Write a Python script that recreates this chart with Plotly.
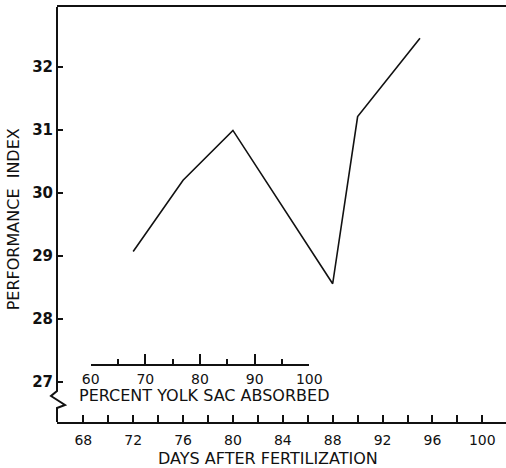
import plotly.graph_objects as go

# ---- data ----
days = [72, 76, 80, 88, 90, 95]
performance = [29.07, 30.20, 30.99, 28.56, 31.21, 32.45]

day_ticks = list(range(68, 101, 2))
day_labels = [str(d) if (d - 68) % 4 == 0 else "" for d in day_ticks]

y_ticks = [27, 28, 29, 30, 31, 32]
y_labels = ["27", "28", "29", "30", "31", "32"]

pct_major = [60, 70, 80, 90, 100]
pct_labels = ["60", "70", "80", "90", "100"]
pct_minor = [65, 75, 85, 95]

# ---- layout geometry ----
W, H = 506, 468
ML, MR, MT, MB = 57, 0, 7, 46
PW, PH = W - ML - MR, H - MT - MB
X_RANGE = [65.89, 101.9]
Y_RANGE = [26.369, 32.946]

def px_to_paper_x(px):
    return (px - ML) / PW

def py_to_paper_y(py):
    return (H - MB - py) / PH

FONT = "DejaVu Sans"
BLACK = "#111111"

fig = go.Figure()
fig.add_trace(go.Scatter(x=days, y=performance, mode="lines",
                         line=dict(color=BLACK, width=1.6),
                         showlegend=False, hoverinfo="skip"))
# carrier for the secondary (percent) axis
fig.add_trace(go.Scatter(x=pct_major, y=[None] * len(pct_major), xaxis="x2", yaxis="y",
                         mode="lines", showlegend=False, hoverinfo="skip"))

# left axis with break (zigzag)
zig = [(57, 7), (57, 391), (51, 396), (65, 405), (57, 408), (57, H - MB)]
path = "M " + " L ".join(f"{px_to_paper_x(a):.5f},{py_to_paper_y(b):.5f}" for a, b in zig)
shapes = [dict(type="path", path=path, xref="paper", yref="paper",
               line=dict(color=BLACK, width=2), layer="above")]

fig.update_layout(
    width=W, height=H,
    margin=dict(l=ML, r=MR, t=MT, b=MB, autoexpand=False),
    paper_bgcolor="white", plot_bgcolor="rgba(0,0,0,0)",
    font=dict(family=FONT, color=BLACK, size=14),
    showlegend=False,
    shapes=shapes,
    xaxis=dict(range=X_RANGE, tickmode="array", tickvals=day_ticks, ticktext=day_labels,
               ticks="inside", ticklen=7, tickwidth=1.5, tickcolor=BLACK,
               showline=True, linecolor=BLACK, linewidth=2, mirror=True,
               showgrid=False, zeroline=False, ticklabelstandoff=4, automargin=False,
               tickfont=dict(size=14)),
    yaxis=dict(range=Y_RANGE, tickmode="array", tickvals=y_ticks, ticktext=y_labels,
               ticks="inside", ticklen=6, tickwidth=1.5, tickcolor=BLACK,
               showline=False, showgrid=False, zeroline=False, automargin=False,
               ticklabelstandoff=3, tickfont=dict(size=15, weight="bold")),
    xaxis2=dict(domain=[px_to_paper_x(90.7), px_to_paper_x(309.3)], range=[60, 100],
                anchor="free", position=py_to_paper_y(365), side="bottom",
                tickmode="array", tickvals=pct_major, ticktext=pct_labels,
                ticks="inside", ticklen=10, tickwidth=1.5, tickcolor=BLACK,
                minor=dict(tickmode="array", tickvals=pct_minor, ticks="inside",
                           ticklen=5, tickwidth=1.5, tickcolor=BLACK),
                showline=True, linecolor=BLACK, linewidth=1.5, automargin=False,
                showgrid=False, zeroline=False, ticklabelstandoff=1,
                tickfont=dict(size=14)),
    annotations=[
        dict(text="DAYS AFTER FERTILIZATION", xref="paper", yref="paper",
             x=px_to_paper_x(268), y=py_to_paper_y(458), xanchor="center", yanchor="middle",
             showarrow=False, font=dict(size=16)),
        dict(text="PERCENT YOLK SAC ABSORBED", xref="paper", yref="paper",
             x=px_to_paper_x(204), y=py_to_paper_y(395), xanchor="center", yanchor="middle",
             showarrow=False, font=dict(size=16)),
        dict(text="PERFORMANCE  INDEX", xref="paper", yref="paper",
             x=px_to_paper_x(13.3), y=py_to_paper_y(219), xanchor="center", yanchor="middle",
             textangle=-90, showarrow=False, font=dict(size=16)),
    ],
)

fig.write_html("out.html", config={"displayModeBar": False},
               post_script="document.body.style.margin='0';document.body.style.padding='0';")
